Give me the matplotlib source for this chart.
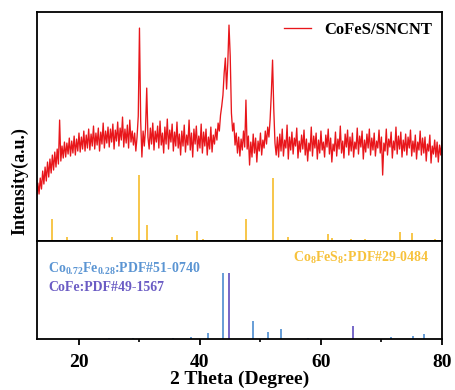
import numpy as np
import matplotlib
matplotlib.use("Agg")
import matplotlib.pyplot as plt
from matplotlib.ticker import MultipleLocator

plt.rcParams['font.family'] = 'Liberation Serif'
plt.rcParams['font.weight'] = 'bold'
plt.rcParams['mathtext.fontset'] = 'custom'
plt.rcParams['mathtext.rm'] = 'Liberation Serif'
plt.rcParams['mathtext.bf'] = 'Liberation Serif:bold'
plt.rcParams['mathtext.default'] = 'bf'

# difratograma medido (CoFeS/SNCNT), passo de 0.2 grau de 13 a 80
two_theta = np.linspace(13.0, 80.0, 336)
intensity = [
    45, 58, 47, 63, 52, 70, 57, 74, 60, 79, 64, 82, 68, 86, 71, 89, 74, 92, 77, 121,
    80, 95, 83, 99, 84, 98, 87, 103, 85, 100, 88, 105, 86, 102, 90, 108, 89, 104, 92, 110,
    90, 106, 93, 112, 91, 107, 95, 115, 92, 108, 96, 113, 90, 109, 97, 118, 93, 110, 98, 114,
    94, 112, 99, 117, 92, 111, 100, 119, 95, 113, 101, 124, 94, 112, 98, 116, 93, 121, 99, 110,
    96, 108, 90, 104, 125, 213, 120, 84, 110, 95, 112, 153, 104, 92, 113, 97, 118, 91, 110, 99,
    115, 93, 120, 96, 108, 88, 114, 97, 122, 92, 111, 99, 117, 90, 109, 95, 119, 93, 107, 86,
    110, 95, 116, 89, 106, 96, 121, 91, 108, 84, 112, 97, 115, 90, 105, 93, 117, 88, 109, 95,
    112, 86, 104, 92, 114, 89, 106, 97, 112, 101, 118, 110, 126, 135, 146, 168, 183, 152, 178, 216,
    185, 128, 110, 118, 96, 108, 88, 104, 85, 102, 91, 110, 94, 141, 92, 105, 76, 99, 84, 107,
    88, 103, 79, 100, 90, 108, 86, 101, 93, 110, 97, 114, 104, 122, 148, 181, 132, 98, 86, 104,
    84, 107, 90, 112, 85, 101, 93, 116, 82, 104, 91, 109, 87, 103, 95, 113, 83, 100, 89, 106,
    92, 111, 86, 102, 80, 98, 90, 114, 85, 105, 93, 108, 82, 101, 88, 110, 91, 99, 84, 106,
    94, 112, 87, 103, 79, 97, 90, 109, 85, 102, 92, 115, 88, 100, 83, 107, 94, 111, 86, 104,
    90, 108, 84, 99, 92, 113, 87, 105, 94, 110, 82, 101, 89, 107, 93, 112, 86, 103, 91, 108,
    85, 100, 93, 111, 88, 104, 66, 98, 90, 112, 86, 102, 94, 109, 83, 100, 91, 114, 87, 105,
    92, 109, 84, 101, 90, 107, 86, 104, 93, 111, 85, 100, 89, 106, 82, 99, 91, 110, 86, 103,
    88, 104, 80, 97, 90, 106, 78, 95, 87, 101, 84, 99, 79, 96, 86, 100,
]

# Co8FeS8 PDF#29-0484
cofes_pos = [15.5, 18.0, 25.4, 29.9, 31.2, 36.2, 39.5, 40.5, 44.6, 47.6, 52.0,
             54.6, 58.7, 61.2, 61.8, 64.9, 67.2, 70.9, 73.0, 75.0, 78.8]
cofes_int = [22, 4, 4, 66, 16, 6, 10, 2, 1, 22, 63,
             4, 1, 7, 3, 2, 2, 1, 9, 8, 2]

# Co0.72Fe0.28 PDF#51-0740
co72_pos = [25.0, 28.9, 35.5, 38.5, 41.3, 43.85, 48.8, 51.2, 53.4, 57.9, 71.5, 75.2, 77.1]
co72_int = [1, 1, 1, 1.5, 6, 66, 18, 7, 10, 1, 1.5, 3, 5]

# CoFe PDF#49-1567
cofe_pos = [44.85, 65.3]
cofe_int = [66, 13]

red = '#e8161b'
gold = '#f7c23c'
blue = '#5b95d3'
purple = '#6b5cc4'

fig = plt.figure(figsize=(4.55, 3.9), dpi=100)
ax1 = fig.add_axes([0.0813, 0.382, 0.890, 0.587])
ax2 = fig.add_axes([0.0813, 0.1308, 0.890, 0.2512], sharex=ax1)

ax1.plot(two_theta, intensity, color=red, lw=0.95, label='CoFeS/SNCNT')
ax1.vlines(cofes_pos, 0, cofes_int, color=gold, lw=1.3)
ax1.set_ylim(0, 229)
ax1.set_xlim(13.06, 80)
ax1.legend(loc='upper right', frameon=False, handlelength=1.6,
           borderaxespad=0.2, handletextpad=0.8,
           prop={'weight': 'bold', 'size': 12})

ax2.vlines(co72_pos, 0, co72_int, color=blue, lw=1.3)
ax2.vlines(cofe_pos, 0, cofe_int, color=purple, lw=1.3)
ax2.set_ylim(0, 98)
ax2.text(0.027, 0.72, 'Co$_{0.72}$Fe$_{0.28}$:PDF#51-0740', color=blue,
         transform=ax2.transAxes, fontsize=10, va='center', ha='left')
ax2.text(0.027, 0.53, 'CoFe:PDF#49-1567', color=purple,
         transform=ax2.transAxes, fontsize=10, va='center', ha='left')
ax2.text(0.97, 0.83, 'Co$_{8}$FeS$_{8}$:PDF#29-0484', color=gold,
         transform=ax2.transAxes, fontsize=10, va='center', ha='right')

for ax in (ax1, ax2):
    ax.set_yticks([])
    for s in ax.spines.values():
        s.set_linewidth(1.3)

ax1.tick_params(axis='x', which='both', bottom=False, labelbottom=False)
ax2.xaxis.set_major_locator(MultipleLocator(20))
ax2.xaxis.set_minor_locator(MultipleLocator(10))
ax2.tick_params(axis='x', which='major', direction='out', length=4, width=1.3,
                labelsize=14, pad=7)
ax2.tick_params(axis='x', which='minor', direction='out', length=2.5, width=1.2)
for lbl in ax2.get_xticklabels():
    lbl.set_fontweight('bold')
ax2.set_xlabel('2 Theta (Degree)', fontsize=14, fontweight='bold', labelpad=-0.5)

fig.text(0.044, 0.536, 'Intensity(a.u.)', rotation=90, fontsize=13,
         fontweight='bold', ha='center', va='center')

fig.savefig('out.png', dpi=100)
